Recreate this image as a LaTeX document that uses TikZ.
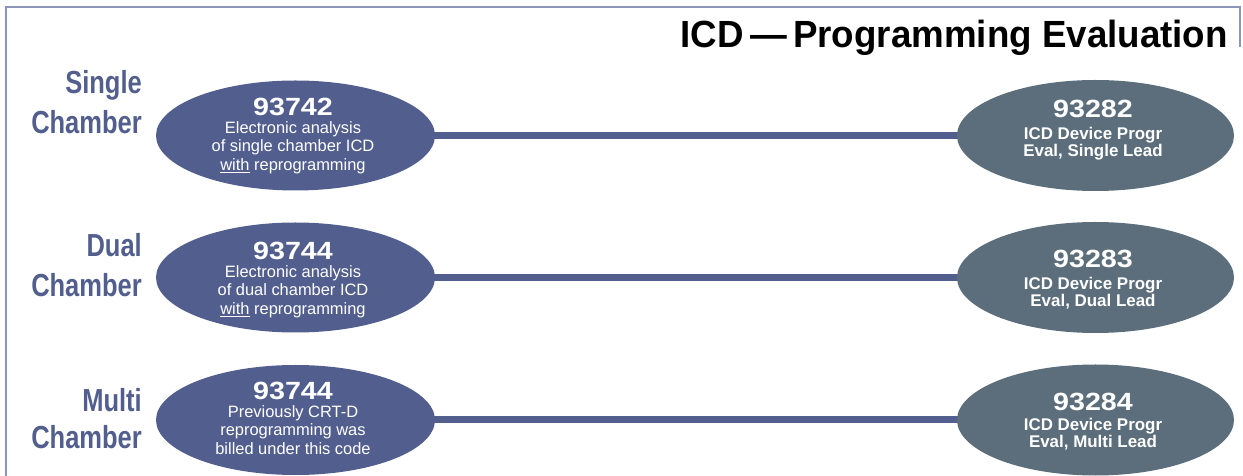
\documentclass[tikz,border=0pt]{standalone}
\usepackage{fontspec}
\setmainfont{Liberation Sans}
\newfontfamily\condbold[FakeStretch=0.8]{Liberation Sans}
\newfontfamily\widebold[FakeStretch=1.15]{Liberation Sans}
\newfontfamily\titlefont[FakeStretch=0.97]{Liberation Sans}
\usetikzlibrary{shapes.geometric,backgrounds}
\definecolor{leftblue}{HTML}{525F8E}
\definecolor{slate}{HTML}{5C6E7B}
\definecolor{framecol}{HTML}{8C95BC}
\newcommand\codenum[1]{{\widebold\bfseries\fontsize{25}{25}\selectfont #1}}
\tikzset{
  leftell/.style={ellipse, fill=leftblue, minimum width=279bp, minimum height=110bp, inner sep=0pt},
  rightell/.style={ellipse, fill=slate, minimum width=277bp, minimum height=111bp, inner sep=0pt},
  ltext/.style={text=white, align=center, inner sep=0pt, anchor=north, font=\fontsize{16.5}{19}\selectfont},
  rtext/.style={text=white, align=center, inner sep=0pt, anchor=north, font=\fontsize{17}{18}\selectfont\bfseries},
  sidelabel/.style={text=leftblue, align=right, inner sep=0pt, anchor=north east, font=\condbold\bfseries\fontsize{32}{40}\selectfont},
  link/.style={draw=leftblue, line width=7bp},
  framestyle/.style={draw=framecol, line width=2bp}
}
\begin{document}
\begin{tikzpicture}[x=1bp,y=-1bp]
\useasboundingbox (0,0) rectangle (1243,476);
% frame
\draw[framestyle] (6,476) -- (6,7) -- (1240,7) -- (1240,47);
% title
\node[anchor=base east, inner sep=0pt, font=\titlefont\bfseries\fontsize{38}{38}\selectfont] (title) at (1228,48) {ICD\,—\,Programming Evaluation};
% side labels
\node[sidelabel] (lab1) at (142,70) {Single\\Chamber};
\node[sidelabel] (lab2) at (142,233) {Dual\\Chamber};
\node[sidelabel] (lab3) at (142,388) {Multi\\[-3bp]Chamber};
% ellipses
\node[leftell] (L1) at (295.5,135.5) {};
\node[leftell] (L2) at (295.5,277.5) {};
\node[leftell] (L3) at (295.5,420) {};
\node[rightell] (R1) at (1095.5,135.5) {};
\node[rightell] (R2) at (1095.5,277.5) {};
\node[rightell] (R3) at (1095.5,420) {};
% connectors
\begin{scope}[on background layer]
\draw[link] (L1.center) -- (R1.center);
\draw[link] (L2.center) -- (R2.center);
\draw[link] (L3.center) -- (R3.center);
\end{scope}
% ellipse texts
\node[ltext] (L1t) at (293,97.5) {\codenum{93742}\\[-1bp]Electronic analysis\\of single chamber ICD\\\underline{with} reprogramming};
\node[ltext] (L2t) at (293,241.5) {\codenum{93744}\\[-1bp]Electronic analysis\\of dual chamber ICD\\\underline{with} reprogramming};
\node[ltext] (L3t) at (293,381.5) {\codenum{93744}\\[-1bp]Previously CRT-D\\reprogramming was\\billed under this code};
\node[rtext] (R1t) at (1093,99.5) {\codenum{93282}\\[4bp]ICD Device Progr\\Eval, Single Lead};
\node[rtext] (R2t) at (1093,249.5) {\codenum{93283}\\[4bp]ICD Device Progr\\Eval, Dual Lead};
\node[rtext] (R3t) at (1093,392.5) {\codenum{93284}\\[2bp]ICD Device Progr\\Eval, Multi Lead};
\end{tikzpicture}
\end{document}
